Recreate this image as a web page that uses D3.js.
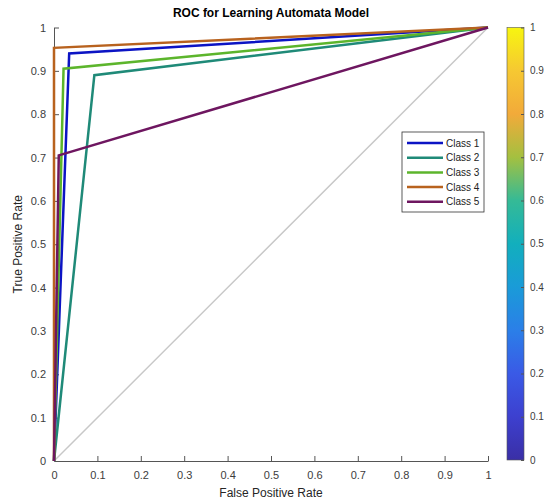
<!DOCTYPE html>
<html>
<head>
<meta charset="utf-8">
<script src="https://cdn.jsdelivr.net/npm/d3@7"></script>
<style>
  body { margin: 0; background: #fff; }
  text { font-family: "Liberation Sans", Arial, sans-serif; }
</style>
</head>
<body>
<div id="chart"></div>
<script>
// ROC points per class: [FPR, TPR]
const classNames = ["Class 1", "Class 2", "Class 3", "Class 4", "Class 5"];
const classColors = ["#0c14c4", "#1f8a78", "#5cb52c", "#b8621e", "#6e1660"];
const class1 = [[0, 0], [0.035, 0.94], [1, 1]];
const class2 = [[0, 0], [0.093, 0.89], [1, 1]];
const class3 = [[0, 0], [0.022, 0.905], [1, 1]];
const class4 = [[0, 0], [0, 0.953], [1, 1]];
const class5 = [[0, 0], [0.011, 0.705], [1, 1]];
const diagonal = [[0, 0], [1, 1]];
const axisTicks = [0, 0.1, 0.2, 0.3, 0.4, 0.5, 0.6, 0.7, 0.8, 0.9, 1];
// colorbar gradient stops (parula-like)
const cbStops = [
  [0, "#3a2fa6"], [0.1, "#3d40cf"], [0.2, "#3a5ae6"], [0.3, "#2b7fe8"],
  [0.4, "#1a9bd8"], [0.5, "#12afbd"], [0.6, "#35ba96"], [0.7, "#a4c040"],
  [0.8, "#f2aa3a"], [0.9, "#f6c832"], [1, "#f7f510"]
];

const series = [class1, class2, class3, class4, class5];

const svg = d3.select("#chart")
    .append("svg")
    .attr("width", 548)
    .attr("height", 500);

svg.append("rect").attr("width", 548).attr("height", 500).attr("fill", "#fff");

const x = d3.scaleLinear().domain([0, 1]).range([54, 488]);
const y = d3.scaleLinear().domain([0, 1]).range([461, 27.5]);

const fmt = d => d === 0 ? "0" : d === 1 ? "1" : d3.format(".1f")(d);

// X axis (ticks inward)
const xAxis = svg.append("g")
    .attr("transform", `translate(0,${y(0)})`)
    .call(d3.axisBottom(x).tickValues(axisTicks).tickFormat(fmt).tickSizeInner(-5).tickSizeOuter(0).tickPadding(10));
// Y axis
const yAxis = svg.append("g")
    .attr("transform", `translate(${x(0)},0)`)
    .call(d3.axisLeft(y).tickValues(axisTicks).tickFormat(fmt).tickSizeInner(-5).tickSizeOuter(0).tickPadding(8));

[xAxis, yAxis].forEach(a => {
  a.select(".domain").attr("stroke", "#555");
  a.selectAll(".tick line").attr("stroke", "#555");
  a.selectAll(".tick text").attr("fill", "#3c3c3c").style("font-size", "11px");
});

// diagonal reference
const line = d3.line().x(d => x(d[0])).y(d => y(d[1]));
svg.append("path")
    .datum(diagonal)
    .attr("d", line)
    .attr("fill", "none")
    .attr("stroke", "#c8c8c8")
    .attr("stroke-width", 1.5);

// ROC curves
svg.selectAll(".roc")
    .data(series)
    .enter()
    .append("path")
    .attr("class", "roc")
    .attr("d", line)
    .attr("fill", "none")
    .attr("stroke", (d, i) => classColors[i])
    .attr("stroke-width", 2.5)
    .attr("stroke-linejoin", "miter");

// Title
svg.append("text")
    .attr("x", 271)
    .attr("y", 17)
    .attr("text-anchor", "middle")
    .style("font-size", "12px")
    .style("font-weight", "bold")
    .text("ROC for Learning Automata Model");

// axis labels
svg.append("text")
    .attr("x", 271)
    .attr("y", 497)
    .attr("text-anchor", "middle")
    .style("font-size", "12px")
    .attr("fill", "#262626")
    .text("False Positive Rate");

svg.append("text")
    .attr("text-anchor", "middle")
    .attr("transform", `translate(22,${y(0.5)}) rotate(-90)`)
    .style("font-size", "12px")
    .attr("fill", "#262626")
    .text("True Positive Rate");

// Legend
const legend = svg.append("g").attr("transform", "translate(402,132)");
legend.append("rect")
    .attr("width", 82)
    .attr("height", 80)
    .attr("fill", "#fff")
    .attr("stroke", "#333")
    .attr("stroke-width", 0.8);
classNames.forEach((name, i) => {
  const ly = 11 + i * 14.7;
  legend.append("line")
      .attr("x1", 5).attr("x2", 41)
      .attr("y1", ly).attr("y2", ly)
      .attr("stroke", classColors[i])
      .attr("stroke-width", 2.5);
  legend.append("text")
      .attr("x", 44)
      .attr("y", ly + 3.5)
      .style("font-size", "10px")
      .attr("fill", "#222")
      .text(name);
});

// Colorbar
const cb = d3.scaleLinear().domain([0, 1]).range([460, 27.5]);
const defs = svg.append("defs");
const grad = defs.append("linearGradient")
    .attr("id", "parula")
    .attr("x1", 0).attr("y1", 1).attr("x2", 0).attr("y2", 0);
grad.selectAll("stop")
    .data(cbStops)
    .enter()
    .append("stop")
    .attr("offset", d => d[0])
    .attr("stop-color", d => d[1]);

svg.append("rect")
    .attr("x", 507)
    .attr("y", cb(1))
    .attr("width", 17)
    .attr("height", cb(0) - cb(1))
    .attr("fill", "url(#parula)")
    .attr("stroke", "#555")
    .attr("stroke-width", 0.6);

const cbAxis = svg.append("g")
    .attr("transform", "translate(524,0)")
    .call(d3.axisRight(cb).tickValues(axisTicks).tickFormat(fmt).tickSizeInner(-3).tickSizeOuter(0).tickPadding(6));
cbAxis.select(".domain").remove();
cbAxis.selectAll(".tick line").attr("stroke", "#555");
cbAxis.selectAll(".tick text").attr("fill", "#3c3c3c").style("font-size", "10px");
</script>
</body>
</html>
